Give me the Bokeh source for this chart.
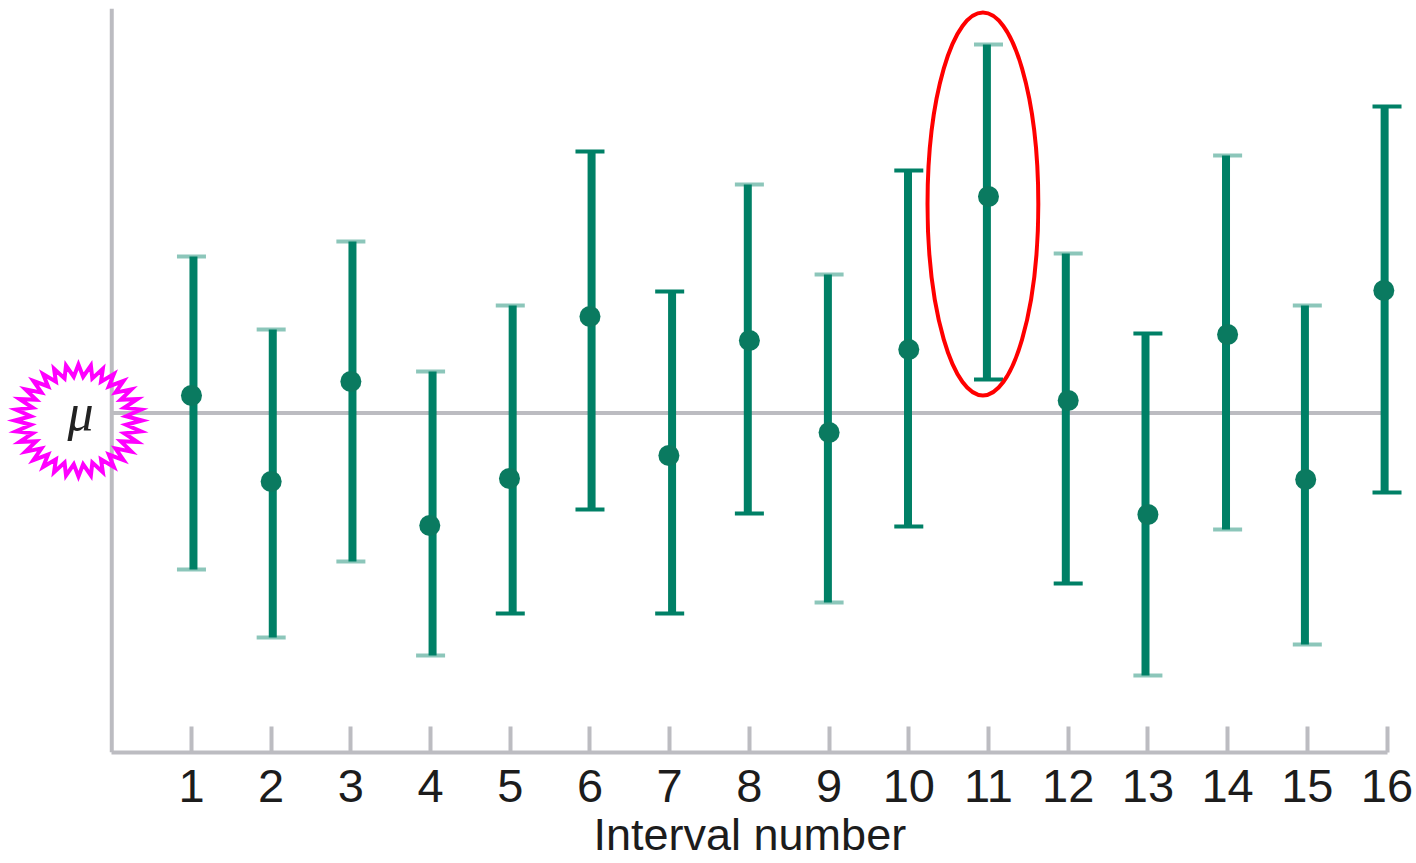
import numpy as np
from bokeh.plotting import figure
from bokeh.models import FixedTicker, ColumnDataSource, Title
from bokeh.core.properties import value
from bokeh.embed import file_html
from bokeh.resources import INLINE

intervals = list(range(1, 17))
means = [0.175, -0.685, 0.315, -1.125, -0.655, 0.965, -0.425, 0.725, -0.195, 0.635, 2.165, 0.125, -1.015, 0.785, -0.665, 1.225]
uppers = [1.565, 0.835, 1.715, 0.415, 1.075, 2.615, 1.215, 2.285, 1.385, 2.425, 3.685, 1.595, 0.795, 2.575, 1.075, 3.065]
lowers = [-1.565, -2.245, -1.485, -2.425, -2.005, -0.965, -2.005, -1.005, -1.895, -1.135, 0.335, -1.705, -2.625, -1.165, -2.315, -0.795]
bar_centers = [1.025, 2.02, 3.02, 4.025, 5.03, 6.02, 7.03, 7.98, 8.985, 9.99, 10.98, 11.97, 12.97, 13.98, 14.97, 15.97]
dot_centers = [1.0, 2.0, 3.0, 3.99, 4.99, 6.0, 6.99, 8.0, 9.0, 10.0, 11.0, 12.0, 13.0, 14.0, 14.98, 15.96]
crisp_upper = {6, 7, 10, 13, 16}
crisp_lower = {5, 6, 7, 8, 10, 11, 12, 16}
tick_labels = [str(i) for i in intervals]
x_label = "Interval number"
mu_label = "μ"

TEAL = "#008066"
GREY = "#bcbcc1"
Y_BOTTOM, Y_TOP = -3.395, 4.045

p = figure(width=1416, height=863, frame_width=1416, frame_height=744, output_backend="svg", toolbar_location=None,
           x_range=(-1.396, 16.37), y_range=(Y_BOTTOM, Y_TOP),
           min_border_left=0, min_border_right=0, min_border_top=8, min_border_bottom=111)
p.outline_line_color = None
p.grid.visible = False
p.yaxis.visible = False

ax = p.xaxis[0]
ax.bounds = (0, 16)
ax.ticker = FixedTicker(ticks=intervals)
ax.major_label_overrides = dict(zip(intervals, tick_labels))
ax.axis_line_color = GREY
ax.axis_line_width = 4
ax.major_tick_line_color = GREY
ax.major_tick_line_width = 4
ax.major_tick_in = 26
ax.major_tick_out = 0
ax.minor_tick_line_color = None
ax.major_label_text_font = "Liberation Sans"
ax.major_label_text_font_size = "47px"
ax.major_label_text_color = "#1c1c1c"
ax.major_label_standoff = 17

p.add_layout(Title(text=x_label, align="left", offset=593, standoff=4, vertical_align="bottom",
                   text_font="Liberation Sans", text_font_size="45px", text_font_style="normal",
                   text_color="#1c1c1c"), "below")

p.segment(x0=[0], y0=[Y_BOTTOM], x1=[0], y1=[Y_TOP], line_color=GREY, line_width=4)
p.segment(x0=[0], y0=[0], x1=[16], y1=[0], line_color=GREY, line_width=4)

# intervals
p.segment(x0=bar_centers, y0=lowers, x1=bar_centers, y1=uppers, line_color=TEAL, line_width=8)

cap = 0.182
caps = ColumnDataSource(dict(
    x0=[i - cap for i in intervals] * 2,
    x1=[i + cap for i in intervals] * 2,
    y=uppers + lowers,
    a=[1.0 if i in crisp_upper else 0.45 for i in intervals] + [1.0 if i in crisp_lower else 0.45 for i in intervals],
))
p.segment(x0="x0", y0="y", x1="x1", y1="y", source=caps, line_color=TEAL, line_width=4, line_alpha="a")

p.scatter(dot_centers, means, size=21, marker="circle", fill_color="#0a7a60", line_color=None)

# red highlight around interval 11
p.ellipse(x=[10.93], y=[2.09], width=[1.39], height=[3.83], fill_color=None,
          line_color="#ff0000", line_width=4)

# starburst around mu
n = 32
ang = np.pi / 2 + np.arange(2 * n) * np.pi / n
rx = np.where(np.arange(2 * n) % 2 == 0, 0.80, 0.60)
ry = np.where(np.arange(2 * n) % 2 == 0, 0.56, 0.44)
p.patch(-0.418 + rx * np.cos(ang), -0.075 + ry * np.sin(ang), fill_color=None,
        line_color="#ff00ff", line_width=4, line_join="miter")

p.text(x=[-0.393], y=[0.005], text=[mu_label], text_font=value("Liberation Serif"),
       text_font_style="italic", text_font_size="52px", text_color="#222222",
       text_align="center", text_baseline="alphabetic")

open("out.html", "w").write(file_html(p, INLINE))
